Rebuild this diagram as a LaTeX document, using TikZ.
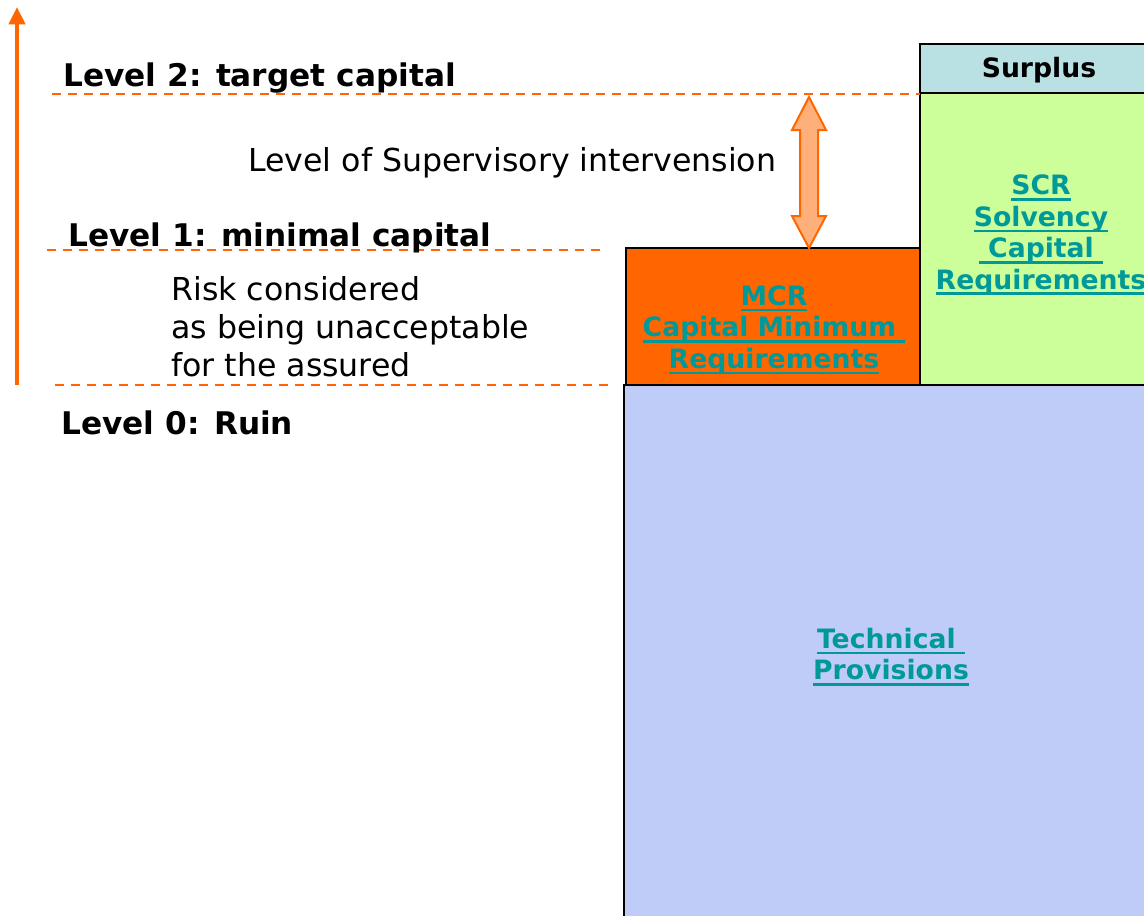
\documentclass[tikz,border=0pt]{standalone}
\usepackage{fontspec}
\setmainfont{DejaVu Sans}
\usepackage{xcolor}
\usetikzlibrary{positioning,calc,arrows.meta}

\definecolor{riskorange}{HTML}{FF6600}
\definecolor{arrowfill}{HTML}{FFB07A}
\definecolor{surpluscol}{HTML}{B9E0E3}
\definecolor{scrcol}{HTML}{CCFF99}
\definecolor{tpcol}{HTML}{C0CCF8}
\definecolor{linkteal}{HTML}{009999}

% thick link-style underline
\newcommand{\linkul}[1]{\setbox0\hbox{#1}\rlap{\rule[-4.5pt]{\wd0}{2pt}}\box0}

\begin{document}
\begin{tikzpicture}[
    x=0.75pt, y=-0.75pt,
    lvltext/.style={anchor=west, inner sep=0pt, font=\fontsize{23.4}{27}\selectfont\bfseries},
    plaintext/.style={anchor=west, inner sep=0pt, align=left, font=\fontsize{23.7}{28.5}\selectfont},
    lvlline/.style={riskorange, line width=1.8pt, dash pattern=on 7pt off 5pt},
    block/.style={draw=black, line width=1.5pt},
    blocktext/.style={inner sep=0pt, align=center, text=linkteal, font=\fontsize{20}{23.6}\selectfont\bfseries}
]
    \useasboundingbox (0,0) rectangle (1144,915);

    % blocks
    \draw[block, fill=tpcol] (624,385) rectangle (1150,925);
    \draw[block, fill=riskorange] (626,248) rectangle (920,385);
    \draw[block, fill=scrcol] (920,93) rectangle (1150,385);
    \draw[block, fill=surpluscol] (920,44) rectangle (1150,93);

    \node[inner sep=0pt, font=\fontsize{20}{24}\selectfont\bfseries] (surplus) at (1039,70) {Surplus};
    \node[blocktext] (scr) at (1041,235) {\linkul{SCR}\\\linkul{Solvency}\\\linkul{ Capital }\\\linkul{Requirements}};
    \node[blocktext] (mcr) at (774,330) {\linkul{MCR}\\\linkul{Capital Minimum }\\\linkul{Requirements}};
    \node[blocktext] (tp) at (891,657) {\linkul{Technical }\\\linkul{Provisions}};

    % levels
    \coordinate (axisbot) at (17,385);
    \coordinate (axistop) at (17,7);
    \draw[riskorange, line width=3pt, -{Triangle[width=12pt, length=13pt]}] (axisbot) -- (axistop);

    \coordinate (lvltwoa) at (52,94);
    \coordinate (lvltwob) at (920,94);
    \coordinate (lvlonea) at (47,250);
    \coordinate (lvloneb) at (600,250);
    \coordinate (lvlzeroa) at (55,385);
    \coordinate (lvlzerob) at (610,385);
    \draw[lvlline] (lvltwoa) -- (lvltwob);
    \draw[lvlline] (lvlonea) -- (lvloneb);
    \draw[lvlline] (lvlzeroa) -- (lvlzerob);

    \node[lvltext] (lvltwo) at (63,78) {Level 2: target capital};
    \node[lvltext] (lvlone) at (68,238) {Level 1: minimal capital};
    \node[lvltext] (lvlzero) at (61,423) {Level 0: Ruin};

    \node[plaintext] (superv) at (248,163) {Level of Supervisory intervension};
    \node[plaintext] (risk) at (171,327) {Risk considered\\as being unacceptable\\for the assured};

    % intervention arrow
    \filldraw[riskorange, fill=arrowfill, line width=1.5pt, line join=miter]
        (809,97) -- (826,130) -- (818,130) -- (818,216) -- (826,216) -- (809,248)
        -- (792,216) -- (800,216) -- (800,130) -- (792,130) -- cycle;
\end{tikzpicture}
\end{document}
